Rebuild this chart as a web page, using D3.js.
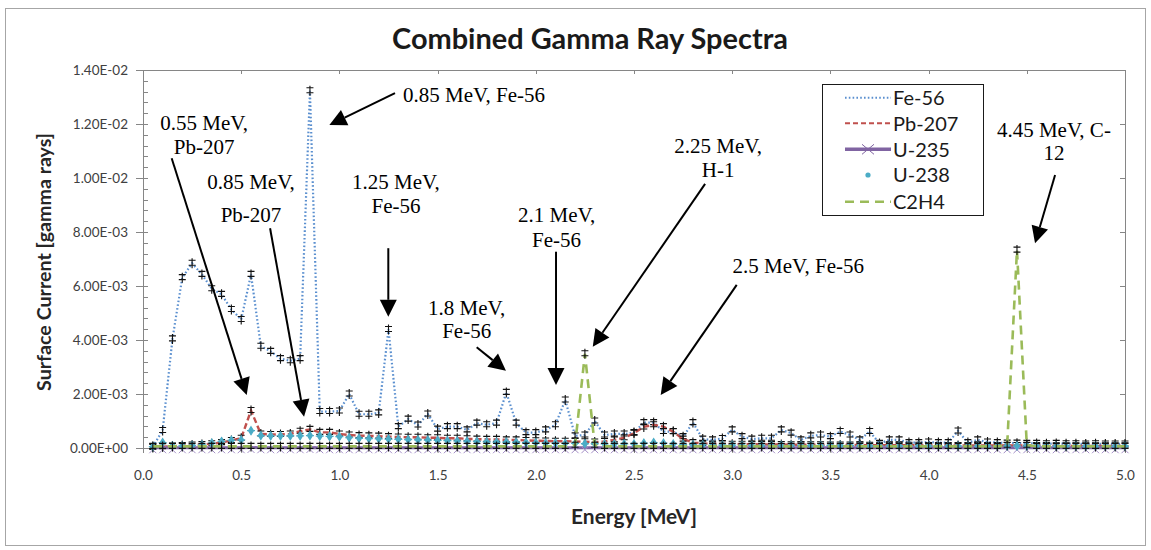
<!DOCTYPE html>
<html><head><meta charset="utf-8">
<script src="https://cdn.jsdelivr.net/npm/d3@7"></script>
<style>body{margin:0;background:#fff;}svg{display:block;}</style>
</head><body>
<svg id="chart" width="1151" height="550"></svg>
<script>
// ---------- DATA (values in units of 1E-03 gamma rays) ----------
const unit = 1e-3;
const energies = [0.05,0.10,0.15,0.20,0.25,0.30,0.35,0.40,0.45,0.50,
  0.55,0.60,0.65,0.70,0.75,0.80,0.85,0.90,0.95,1.00,
  1.05,1.10,1.15,1.20,1.25,1.30,1.35,1.40,1.45,1.50,
  1.55,1.60,1.65,1.70,1.75,1.80,1.85,1.90,1.95,2.00,
  2.05,2.10,2.15,2.20,2.25,2.30,2.35,2.40,2.45,2.50,
  2.55,2.60,2.65,2.70,2.75,2.80,2.85,2.90,2.95,3.00,
  3.05,3.10,3.15,3.20,3.25,3.30,3.35,3.40,3.45,3.50,
  3.55,3.60,3.65,3.70,3.75,3.80,3.85,3.90,3.95,4.00,
  4.05,4.10,4.15,4.20,4.25,4.30,4.35,4.40,4.45,4.50,
  4.55,4.60,4.65,4.70,4.75,4.80,4.85,4.90,4.95,5.00];

const fe56 = [0.05,0.65,4.04,6.31,6.84,6.43,5.90,5.69,5.13,4.76,
  6.43,3.77,3.58,3.31,3.23,3.31,13.23,1.35,1.35,1.37,
  2.00,1.25,1.25,1.30,4.39,0.79,1.07,0.85,1.26,0.70,
  0.79,0.79,0.67,0.92,0.86,0.92,2.06,0.92,0.57,0.57,
  0.67,0.86,1.78,0.45,0.48,1.00,0.48,0.52,0.52,0.57,
  0.94,0.94,0.61,0.61,0.42,0.94,0.33,0.30,0.35,0.67,
  0.42,0.33,0.36,0.36,0.67,0.55,0.30,0.45,0.48,0.42,
  0.61,0.48,0.30,0.61,0.17,0.30,0.30,0.20,0.20,0.22,
  0.20,0.20,0.63,0.20,0.30,0.22,0.20,0.18,0.18,0.17,
  0.17,0.16,0.17,0.16,0.16,0.15,0.16,0.15,0.15,0.15];

const pb207 = [0.02,0.05,0.07,0.09,0.11,0.13,0.16,0.20,0.28,0.36,
  1.39,0.52,0.50,0.50,0.52,0.62,0.69,0.58,0.58,0.52,
  0.48,0.46,0.45,0.44,0.42,0.41,0.40,0.40,0.38,0.38,
  0.36,0.36,0.34,0.33,0.32,0.32,0.30,0.30,0.28,0.27,
  0.26,0.25,0.25,0.24,0.23,0.22,0.24,0.30,0.38,0.55,
  0.78,0.86,0.79,0.60,0.33,0.20,0.17,0.15,0.15,0.14,
  0.14,0.14,0.13,0.13,0.13,0.12,0.12,0.12,0.12,0.11,
  0.11,0.11,0.11,0.10,0.10,0.10,0.10,0.10,0.10,0.09,
  0.09,0.09,0.09,0.09,0.09,0.09,0.09,0.09,0.09,0.09,
  0.09,0.09,0.08,0.08,0.08,0.08,0.08,0.08,0.08,0.08];

const u235 = [0.01,0.01,0.01,0.01,0.01,0.01,0.01,0.01,0.01,0.01,
  0.02,0.01,0.01,0.01,0.01,0.01,0.02,0.01,0.01,0.01,
  0.01,0.01,0.01,0.01,0.01,0.01,0.01,0.01,0.01,0.01,
  0.01,0.01,0.01,0.01,0.01,0.01,0.01,0.01,0.01,0.01,
  0.01,0.01,0.01,0.01,0.01,0.01,0.01,0.01,0.01,0.01,
  0.01,0.01,0.01,0.01,0.01,0.01,0.01,0.01,0.01,0.01,
  0.01,0.01,0.01,0.01,0.01,0.01,0.01,0.01,0.01,0.01,
  0.01,0.01,0.01,0.01,0.01,0.01,0.01,0.01,0.01,0.01,
  0.01,0.01,0.01,0.01,0.01,0.01,0.01,0.01,0.01,0.01,
  0.01,0.01,0.01,0.01,0.01,0.01,0.01,0.01,0.01,0.01];

const u238 = [0.05,0.20,0.08,0.08,0.10,0.12,0.18,0.24,0.28,0.30,
  0.64,0.46,0.45,0.45,0.45,0.45,0.46,0.44,0.43,0.42,
  0.38,0.36,0.35,0.34,0.33,0.32,0.31,0.30,0.29,0.28,
  0.27,0.26,0.25,0.24,0.23,0.22,0.22,0.21,0.20,0.19,
  0.18,0.18,0.17,0.17,0.16,0.16,0.15,0.15,0.15,0.15,
  0.18,0.20,0.18,0.15,0.13,0.12,0.12,0.11,0.11,0.11,
  0.10,0.10,0.10,0.10,0.10,0.10,0.10,0.10,0.10,0.10,
  0.10,0.10,0.09,0.09,0.09,0.09,0.09,0.09,0.08,0.08,
  0.08,0.08,0.08,0.08,0.08,0.08,0.08,0.08,0.08,0.08,
  0.08,0.08,0.07,0.07,0.07,0.07,0.07,0.07,0.07,0.07];

const c2h4 = [0.06,0.06,0.06,0.06,0.06,0.06,0.06,0.06,0.06,0.06,
  0.06,0.06,0.06,0.06,0.06,0.06,0.06,0.06,0.06,0.06,
  0.06,0.06,0.06,0.06,0.06,0.06,0.06,0.06,0.06,0.06,
  0.06,0.06,0.06,0.06,0.06,0.06,0.06,0.06,0.06,0.06,
  0.06,0.06,0.06,0.10,3.49,0.10,0.06,0.06,0.06,0.06,
  0.06,0.06,0.06,0.06,0.06,0.06,0.06,0.06,0.06,0.06,
  0.06,0.06,0.06,0.06,0.06,0.06,0.06,0.06,0.06,0.06,
  0.06,0.06,0.06,0.06,0.06,0.06,0.06,0.06,0.06,0.06,
  0.06,0.06,0.06,0.06,0.06,0.06,0.06,0.10,7.33,0.10,
  0.06,0.06,0.06,0.06,0.06,0.06,0.06,0.06,0.06,0.06];

const seriesNames = ["Fe-56","Pb-207","U-235","U-238","C2H4"];
const yTicks = [0,2,4,6,8,10,12,14];
const yTickLabels = ["0.00E+00","2.00E-03","4.00E-03","6.00E-03","8.00E-03","1.00E-02","1.20E-02","1.40E-02"];
const xTicks = [0,0.5,1,1.5,2,2.5,3,3.5,4,4.5,5];
const xTickLabels = ["0.0","0.5","1.0","1.5","2.0","2.5","3.0","3.5","4.0","4.5","5.0"];

// annotations: text lines anchored at (energy, value[1E-03]); arrows from -> to
const annotations = [
  {lines:["0.85 MeV, Fe-56"], anchor:"start", tx:1.324, ty:[12.83], from:[1.283,13.14], to:[0.949,11.96]},
  {lines:["0.55 MeV,","Pb-207"], anchor:"middle", tx:0.311, ty:[11.78,10.88], from:[0.146,10.73], to:[0.528,1.96]},
  {lines:["0.85 MeV,","Pb-207"], anchor:"middle", tx:0.550, ty:[9.58,8.38], from:[0.647,8.14], to:[0.820,1.16]},
  {lines:["1.25 MeV,","Fe-56"], anchor:"middle", tx:1.288, ty:[9.59,8.72], from:[1.249,7.40], to:[1.249,4.86]},
  {lines:["1.8 MeV,","Fe-56"], anchor:"middle", tx:1.648, ty:[4.93,4.06], from:[1.699,3.73], to:[1.848,2.86]},
  {lines:["2.1 MeV,","Fe-56"], anchor:"middle", tx:2.106, ty:[8.37,7.46], from:[2.103,7.27], to:[2.103,2.33]},
  {lines:["2.25 MeV,","H-1"], anchor:"middle", tx:2.928, ty:[10.93,10.04], from:[2.862,9.78], to:[2.290,3.75]},
  {lines:["2.5 MeV, Fe-56"], anchor:"start", tx:3.002, ty:[6.47], from:[3.023,6.04], to:[2.636,1.96]},
  {lines:["4.45 MeV, C-","12"], anchor:"middle", tx:4.638, ty:[11.51,10.67], from:[4.644,10.11], to:[4.542,7.58]}
];

// ---------- DRAW ----------
const svg = d3.select("#chart");
const x = d3.scaleLinear().domain([0,5]).range([143,1125]);
const y = d3.scaleLinear().domain([0,0.014]).range([448,70]);
const Y = v => y(v*unit);
const axisCol = "#868686";
const sansFont = "Lato, 'Open Sans', sans-serif";

function fitWidth(sel, target){
  const n = sel.node(); const fs = parseFloat(sel.attr("font-size"));
  const w = n.getComputedTextLength(); if (w>0) sel.attr("font-size", fs*target/w);
}

// outer chart border
svg.append("rect").attr("x",5.5).attr("y",8.5).attr("width",1140).attr("height",537)
  .attr("fill","#fff").attr("stroke","#a6a6a6").attr("stroke-width",1);

// title
const title = svg.append("text").attr("x",590).attr("y",49).attr("text-anchor","middle")
  .attr("font-family",sansFont).attr("font-weight","bold").attr("font-size",21).attr("fill","#1a1a1a")
  .text("Combined Gamma Ray Spectra");
fitWidth(title, 396);

// plot frame
const g = svg.append("g");
g.append("line").attr("x1",x(0)).attr("x2",x(5)).attr("y1",y(0.014)+0.5).attr("y2",y(0.014)+0.5).attr("stroke",axisCol);
g.append("line").attr("x1",x(5)+0.5).attr("x2",x(5)+0.5).attr("y1",y(0)).attr("y2",y(0.014)).attr("stroke",axisCol);
xTicks.forEach(t=>{ g.append("line").attr("x1",Math.round(x(t))+0.5).attr("x2",Math.round(x(t))+0.5)
  .attr("y1",y(0.014)).attr("y2",y(0.014)+4).attr("stroke",axisCol); });
yTicks.forEach(t=>{ g.append("line").attr("x1",x(5)-5).attr("x2",x(5)).attr("y1",Math.round(Y(t))+0.5)
  .attr("y2",Math.round(Y(t))+0.5).attr("stroke",axisCol); });

// y axis
const yAxis = d3.axisLeft(y).tickValues(yTicks.map(t=>t*unit))
  .tickFormat((d,i)=>yTickLabels[i]).tickSizeInner(7).tickSizeOuter(0).tickPadding(8);
const ya = svg.append("g").attr("transform",`translate(${x(0)},0)`).call(yAxis);
ya.select(".domain").attr("stroke",axisCol);
ya.selectAll(".tick line").attr("stroke",axisCol).attr("x2",-7).attr("x1",2);
ya.selectAll(".tick text").attr("font-family",sansFont).attr("font-size",13.5).attr("fill","#404040");
const yMinor = d3.range(0, 14.01, 0.4);
yMinor.forEach(t=>{ svg.append("line").attr("x1",x(0)).attr("x2",x(0)+5)
  .attr("y1",Math.round(Y(t))+0.5).attr("y2",Math.round(Y(t))+0.5).attr("stroke",axisCol); });

// x axis
const xAxis = d3.axisBottom(x).tickValues(xTicks).tickFormat((d,i)=>xTickLabels[i])
  .tickSizeInner(5).tickSizeOuter(0).tickPadding(17);
const xa = svg.append("g").attr("transform",`translate(0,${y(0)})`).call(xAxis);
xa.select(".domain").attr("stroke",axisCol);
xa.selectAll(".tick line").attr("stroke",axisCol).attr("y1",-5).attr("y2",5);
xa.selectAll(".tick text").attr("font-family",sansFont).attr("font-size",13.5).attr("fill","#404040");

// axis titles
const xt = svg.append("text").attr("x",634).attr("y",524).attr("text-anchor","middle")
  .attr("font-family",sansFont).attr("font-weight","bold").attr("font-size",17).attr("fill","#262626")
  .text("Energy [MeV]");
fitWidth(xt,126);
const yt = svg.append("text").attr("transform","translate(51,262) rotate(-90)").attr("text-anchor","middle")
  .attr("font-family",sansFont).attr("font-weight","bold").attr("font-size",17).attr("fill","#262626")
  .text("Surface Current [gamma rays]");
fitWidth(yt,258);

// ---------- series ----------
const lineGen = d3.line().x((d,i)=>x(energies[i])).y(d=>Y(d));
const plot = svg.append("g");

function errorBars(data){
  plot.append("g").selectAll("path").data(data).join("path")
    .attr("d",(d,i)=>{const cx=x(energies[i]), cy=Y(d);
      return `M${cx},${cy-5}V${cy+5}M${cx-3.5},${cy-3}H${cx+3.5}M${cx-3.5},${cy+2}H${cx+3.5}`;})
    .attr("stroke","#111").attr("stroke-width",1.1).attr("fill","none");
}

plot.append("path").datum(fe56).attr("d",lineGen).attr("fill","none")
  .attr("stroke","#5a8fcf").attr("stroke-width",2.2).attr("stroke-dasharray","1.6,2.2");
errorBars(fe56);
plot.append("path").datum(pb207).attr("d",lineGen).attr("fill","none")
  .attr("stroke","#c0504d").attr("stroke-width",2.4).attr("stroke-dasharray","6,3");
errorBars(pb207);
plot.append("path").datum(u235).attr("d",lineGen).attr("fill","none")
  .attr("stroke","#8064a2").attr("stroke-width",3);
plot.append("g").selectAll("path").data(u235).join("path")
  .attr("d",(d,i)=>{const cx=x(energies[i]), cy=Y(d)+2;
    return `M${cx-3.5},${cy-3.5}L${cx+3.5},${cy+3.5}M${cx-3.5},${cy+3.5}L${cx+3.5},${cy-3.5}`;})
  .attr("stroke","#a58fc8").attr("stroke-width",1).attr("fill","none");
plot.append("g").selectAll("path").data(u238).join("path")
  .attr("d",(d,i)=>{const cx=x(energies[i]), cy=Y(d);
    return `M${cx},${cy-4}L${cx+2.5},${cy}L${cx},${cy+4}L${cx-2.5},${cy}Z M${cx-4},${cy}H${cx+4}`;})
  .attr("fill","#4bacc6").attr("stroke","#4bacc6").attr("stroke-width",1.2);
plot.append("path").datum(c2h4).attr("d",lineGen).attr("fill","none")
  .attr("stroke","#9bbb59").attr("stroke-width",2.6).attr("stroke-dasharray","9,6");
errorBars(c2h4);

// ---------- legend ----------
const lg = svg.append("g");
lg.append("rect").attr("x",822.5).attr("y",84.5).attr("width",161).attr("height",131)
  .attr("fill","#fff").attr("stroke","#1a1a1a").attr("stroke-width",1);
const rowY = [97.7,123.3,149.3,175,201.7];
const legendStyles = [
  {stroke:"#5a8fcf", w:2, dash:"1.6,2.2"},
  {stroke:"#c0504d", w:2, dash:"5,3"},
  {stroke:"#8064a2", w:3.5, dash:null},
  {stroke:null},
  {stroke:"#9bbb59", w:2.4, dash:"9,6"}
];
seriesNames.forEach((name,i)=>{
  const st = legendStyles[i], cy = rowY[i];
  if (st.stroke){
    const l = lg.append("line").attr("x1",845).attr("x2",891).attr("y1",cy).attr("y2",cy)
      .attr("stroke",st.stroke).attr("stroke-width",st.w);
    if (st.dash) l.attr("stroke-dasharray",st.dash);
  }
  if (i===2){
    lg.append("path").attr("d",`M${868-6},${cy-5}L${868+6},${cy+5}M${868-6},${cy+5}L${868+6},${cy-5}`)
      .attr("stroke","#8064a2").attr("stroke-width",1);
  }
  if (i===3){
    lg.append("circle").attr("cx",868).attr("cy",cy).attr("r",2.6).attr("fill","#4bacc6");
  }
  lg.append("text").attr("x",893).attr("y",cy).attr("dy","0.36em")
    .attr("font-family",sansFont).attr("font-size",20).attr("fill","#1a1a1a").text(name);
});

// ---------- annotations ----------
const ag = svg.append("g");
annotations.forEach(a=>{
  a.lines.forEach((ln,k)=>{
    ag.append("text").attr("x",x(a.tx)).attr("y",Y(a.ty[k])).attr("text-anchor",a.anchor)
      .attr("font-family","'Liberation Serif','Times New Roman',serif").attr("font-size",21)
      .attr("fill","#000").text(ln);
  });
  const x1=x(a.from[0]), y1=Y(a.from[1]), x2=x(a.to[0]), y2=Y(a.to[1]);
  const dx=x2-x1, dy=y2-y1, L=Math.hypot(dx,dy), ux=dx/L, uy=dy/L;
  const hl=17, hw=8.5;
  const bx=x2-ux*hl, by=y2-uy*hl;
  ag.append("line").attr("x1",x1).attr("y1",y1).attr("x2",bx).attr("y2",by)
    .attr("stroke","#000").attr("stroke-width",2);
  ag.append("path").attr("d",`M${x2},${y2}L${bx-uy*hw},${by+ux*hw}L${bx+uy*hw},${by-ux*hw}Z`)
    .attr("fill","#000");
});
</script>
</body></html>
